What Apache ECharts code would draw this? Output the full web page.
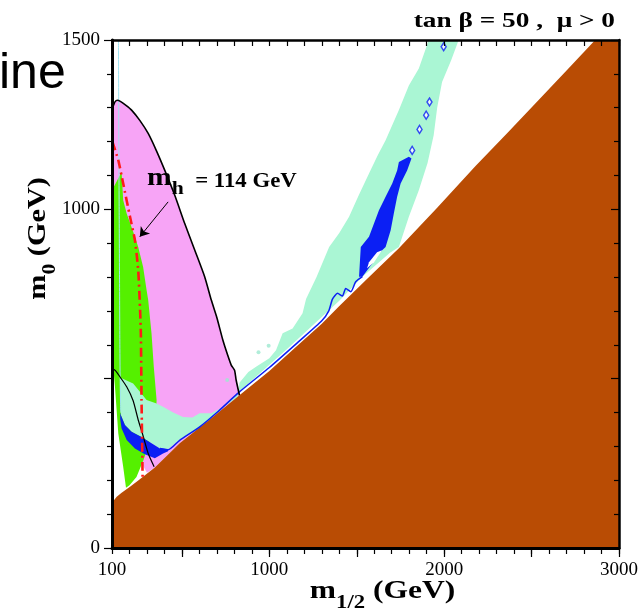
<!DOCTYPE html>
<html><head><meta charset="utf-8">
<script src="https://cdn.jsdelivr.net/npm/echarts@6/dist/echarts.min.js"></script>
<style>html,body{margin:0;padding:0;background:#fff}#c{width:641px;height:615px}</style>
</head><body><div id="c"></div>
<script>
// ---- tick labels and tick positions ----
const xTickLabels = [100, 1000, 2000, 3000];
const yTickLabels = [0, 1000, 1500];
const xLongTicks = [500, 1000, 1500, 2000, 2500, 3000];

// ---- regions (m1/2, m0) in GeV ----
const brownRegion = [[100,0],[100,132],[110,140],[127,151],[155,163],[203,181],[250,199],[345,238],[487,309],[650,376],[829,451],[1000,523],[1171,602],[1300,662],[1399,714],[1560,795],[1741,885],[1960,1005],[2178,1127],[2360,1225],[2539,1322],[2700,1410],[2864,1500],[3000,1500],[3000,0]];
const blackUpper = [[100,1300],[107,1306],[118,1318],[130,1322],[150,1318],[180,1307],[212,1293],[260,1262],[307,1224],[355,1172],[402,1115],[460,1040],[516,958],[573,880],[630,801],[668,732],[700,680],[734,614],[760,572],[782,540],[801,525],[810,496],[829,451]];
const pinkLower = [[650,376],[487,309],[345,238],[300,222],[260,260],[200,400],[150,600],[100,700]];
const greenRegion = [[100,1056],[128,1084],[155,1111],[164,1027],[184,988],[231,919],[250,889],[278,830],[298,761],[307,732],[326,634],[339,535],[355,437],[352,380],[320,320],[280,260],[240,210],[200,185],[180,178],[164,240],[136,338],[117,476],[107,535],[101,600],[100,650]];
const mintRegion = [[146,500],[155,501],[221,486],[298,437],[355,427],[392,417],[450,400],[506,387],[560,385],[601,398],[668,398],[744,419],[790,435],[820,446],[829,488],[880,520],[924,535],[1000,560],[1038,584],[1076,634],[1133,648],[1190,693],[1210,735],[1270,800],[1342,889],[1400,930],[1456,978],[1510,1040],[1570,1106],[1620,1160],[1665,1204],[1741,1293],[1798,1366],[1855,1416],[1912,1500],[2083,1500],[2040,1440],[1988,1376],[1960,1300],[1940,1219],[1905,1137],[1855,1056],[1798,978],[1741,889],[1690,872],[1532,801],[1400,730],[1100,587],[829,462],[600,352],[487,320],[421,292],[374,294],[326,309],[269,328],[212,343],[174,363],[151,392],[146,437]];
const blueBand = [[147,400],[151,392],[174,363],[212,343],[269,328],[326,309],[374,294],[421,292],[421,286],[392,279],[345,265],[288,277],[231,294],[184,319],[155,353],[147,380]];
const blueBlob = [[1513,801],[1523,889],[1570,919],[1627,997],[1665,1037],[1703,1076],[1731,1115],[1741,1140],[1798,1155],[1813,1150],[1788,1115],[1751,1076],[1731,1037],[1712,988],[1694,938],[1665,889],[1627,870],[1589,840],[1532,801]];
const blobHole = [[1559,826],[1570,844],[1616,873],[1644,879],[1599,844]];
const blueContour = [[374,294],[421,290],[487,318],[600,357],[700,400],[829,461],[1000,533],[1171,611],[1300,671],[1340,700],[1361,735],[1390,752],[1418,744],[1437,766],[1466,757],[1494,786],[1532,801]];
const blueDiamonds = [[1997,1480],[1916,1317],[1897,1278],[1859,1236],[1817,1174]];
const mintSpecks = [[938,578],[996,597],[759,496]];
const cyanContour = [[137,1500],[139,1200],[141,1000],[143,800],[145,600],[147,480],[150,400]];
const blackLower = [[100,530],[120,524],[146,505],[184,476],[221,435],[250,378],[274,338],[307,279],[341,240]];
const higgsLine = [[102,1200],[136,1145],[164,1076],[203,978],[231,909],[250,820],[260,712],[265,634],[269,437],[275,210]];
const arrowLine = [[421,1022],[259,919]];

const SERIF = '"Liberation Serif"';
const chart = echarts.init(document.getElementById('c'), null, {renderer:'canvas'});

function poly(name, pts, color, z) {
  return {
    type:'custom', name, coordinateSystem:'cartesian2d', xAxisIndex:0, yAxisIndex:0,
    data:[pts[0]], silent:true, z,
    renderItem:(params, api) => ({
      type:'polygon',
      shape:{points: pts.map(p => api.coord(p))},
      style:{fill: color}
    })
  };
}
function line(name, pts, color, width, z, type) {
  return {type:'line', name, data:pts, showSymbol:false, symbol:'none', z, silent:true,
    lineStyle:{color, width, type: type || 'solid'}, smooth:0.2};
}
const labelStyle = {color:'#000', fontFamily:'Liberation Serif', fontSize:19};
function xAx(pos, inside, lw, withLabels) {
  return {type:'value', position:pos, min:100, max:3000, interval:100, z:10,
    axisLine:{show:true, onZero:false, lineStyle:{color:'#000', width:lw}},
    axisTick:{show:true, inside, length:6, lineStyle:{color:'#000', width:1.2}},
    axisLabel:Object.assign({show:withLabels, margin:13,
      formatter:v => xTickLabels.includes(v) ? String(v) : ''}, labelStyle),
    splitLine:{show:false}};
}
function yAx(pos, inside, lw, withLabels) {
  return {type:'value', position:pos, min:0, max:1500, interval:500, z:10,
    axisLine:{show:true, onZero:false, lineStyle:{color:'#000', width:lw}},
    axisTick:{show:true, inside, length:8, lineStyle:{color:'#000', width:1.2}},
    minorTick:{show:true, splitNumber:5, length:5, lineStyle:{color:'#000', width:1.2}},
    axisLabel:Object.assign({show:withLabels, margin:12,
      formatter:v => yTickLabels.includes(v) ? String(v) : ''}, labelStyle),
    splitLine:{show:false}};
}
const subRich = (big, small) => ({
  m:{font:'bold '+big+'px '+SERIF, lineHeight:big, padding:[0,0,8,0], verticalAlign:'bottom'},
  s:{font:'bold '+small+'px '+SERIF, lineHeight:small, verticalAlign:'bottom'},
  t:{font:'bold '+big+'px '+SERIF, lineHeight:big, padding:[0,0,8,0], verticalAlign:'bottom'}
});

const option = {
  animation:false,
  backgroundColor:'#fff',
  grid:{left:112, right:20, top:40, bottom:67, containLabel:false},
  xAxis:[
    xAx('bottom', false, 3, true),
    xAx('top', true, 2.5, false),
    {type:'value', position:'bottom', min:100, max:3000, interval:100, z:10,
      axisLine:{show:false, onZero:false}, axisLabel:{show:false}, splitLine:{show:false},
      axisTick:{show:true, length:9, lineStyle:{color:'#000', width:1.2}, customValues:xLongTicks}}
  ],
  yAxis:[
    yAx('left', false, 3, true),
    yAx('right', true, 2.5, false)
  ],
  series:[
    poly('pink', blackUpper.concat(pinkLower), '#F7A4F6', 1),
    poly('green', greenRegion, '#55F000', 2),
    poly('mint', mintRegion, '#AAF6D4', 3),
    poly('blueBand', blueBand, '#0B1FF4', 4),
    poly('blueBlob', blueBlob, '#0B1FF4', 4),
    poly('blobHole', blobHole, '#FFFFFF', 5),
    line('cyan', cyanContour, '#9FE3F0', 1, 5),
    poly('brown', brownRegion, '#B94C04', 6),
    line('blueContour', blueContour, '#0B1FF4', 1.5, 7),
    line('blackUpper', blackUpper, '#000', 1.6, 8),
    line('blackLower', blackLower, '#000', 1.2, 8),
    line('higgs', higgsLine, '#FF1A1A', 2.6, 8, [9,4,2,4]),
    {type:'lines', coordinateSystem:'cartesian2d', z:9, silent:true,
      data:[{coords:arrowLine}], symbol:['none','arrow'], symbolSize:9,
      lineStyle:{color:'#000', width:1, opacity:1}},
    {type:'scatter', z:8, silent:true, data:blueDiamonds, symbol:'diamond', symbolSize:[5,8],
      itemStyle:{color:'#fff', borderColor:'#0B1FF4', borderWidth:1.5}},
    {type:'scatter', z:7, silent:true, data:mintSpecks, symbol:'circle', symbolSize:4,
      itemStyle:{color:'#9EE8CF'}}
  ],
  graphic:[
    {type:'text', x:-1, y:74, style:{text:'ine', font:'50px "Liberation Sans"', fill:'#000', align:'left', verticalAlign:'middle'}},
    {type:'text', x:615, y:22, scaleX:1.3, style:{text:'tan \u03b2 = 50 ,  \u03bc > 0', font:'bold 21px '+SERIF, fill:'#000', align:'right', verticalAlign:'middle'}},
    {type:'text', x:147, y:185.5, scaleX:1.14, z:20, style:{
      text:'{m|m}{s|h}{t|  = 114 GeV}', align:'left', verticalAlign:'middle',
      rich:{
        m:{font:'bold 26px '+SERIF, lineHeight:26, padding:[0,0,7,0], verticalAlign:'bottom'},
        s:{font:'bold 19px '+SERIF, lineHeight:19, verticalAlign:'bottom'},
        t:{font:'bold 20px '+SERIF, lineHeight:20, padding:[0,0,7,0], verticalAlign:'bottom'}
      }}},
    {type:'text', x:382.5, y:599.5, scaleX:1.26, style:{
      text:'{m|m}{s|1/2}{t| (GeV)}', align:'center', verticalAlign:'middle', rich:subRich(25,18)}},
    {type:'text', x:46.5, y:238.5, rotation:Math.PI/2, scaleX:1.21, style:{
      text:'{m|m}{s|0}{t| (GeV)}', align:'center', verticalAlign:'middle', rich:subRich(25,18)}}
  ]
};
chart.setOption(option);
</script></body></html>
